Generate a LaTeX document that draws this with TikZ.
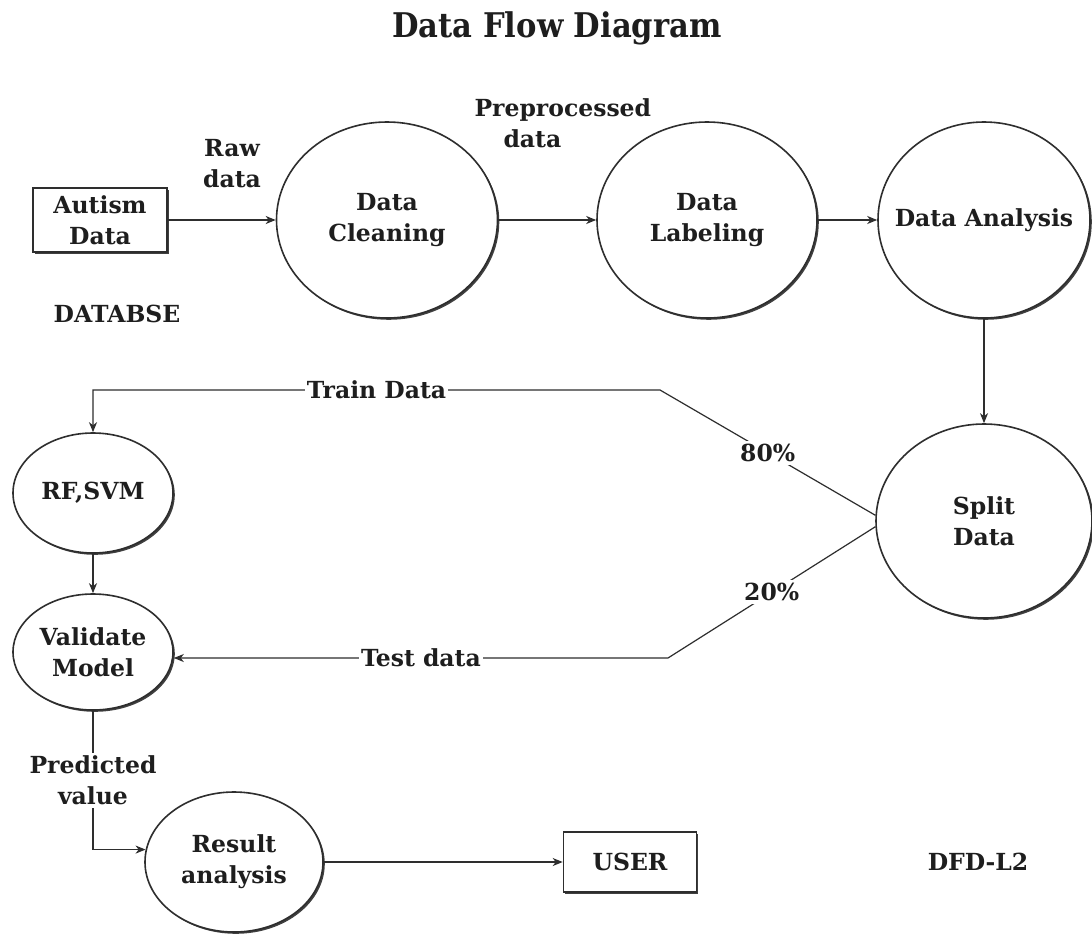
\documentclass[tikz,border=0pt]{standalone}
\usepackage{fontspec}
\setmainfont{DejaVu Serif}
\newfontfamily\headfont{DejaVu Serif Condensed}
\usetikzlibrary{shapes.geometric,arrows.meta,shadows}
\definecolor{ink}{HTML}{1E1E1E}
\definecolor{wire}{HTML}{2E2E2E}
\begin{document}
\begin{tikzpicture}[x=1pt,y=-1pt,
  every node/.style={font=\bfseries\fontsize{23.5}{31}\selectfont, text=ink},
  shade/.style={drop shadow={shadow xshift=1.8pt, shadow yshift=-1.8pt, fill=black, opacity=0.75}},
  proc/.style={ellipse, draw=wire, line width=1.6pt, fill=white, inner sep=0pt, shade},
  store/.style={rectangle, draw=wire, line width=1.6pt, fill=white, align=center, inner sep=0pt, shade},
  inner/.style={align=center},
  flow/.style={draw=wire, line width=1.2pt, -{Stealth[length=10pt,width=8pt,inset=3pt]}},
  tag/.style={fill=white, inner sep=3pt, align=center},
  note/.style={align=center}
]
% canvas
\useasboundingbox[fill=white] (0,0) rectangle (1092,934);

% heading
\node[font=\headfont\bfseries\fontsize{34}{40}\selectfont] (title) at (557,28) {Data Flow Diagram};

% top row
\node[store, minimum width=134pt, minimum height=64pt] (autism) at (100,220) {Autism\\Data};
\node[note] (rawlbl) at (232,164) {Raw\\data};
\node[proc, minimum width=221pt, minimum height=196pt,
      label={[inner]center:Data\\Cleaning}] (clean) at (387,220) {};
\node[anchor=west, align=left] (preplbl) at (471,123) {Preprocessed\\\hspace*{29pt}data};
\node[proc, minimum width=220pt, minimum height=196pt,
      label={[inner]center:Data\\Labeling}] (labeling) at (707,220) {};
\node[proc, minimum width=212pt, minimum height=196pt,
      label={[inner]center:Data Analysis}] (anal) at (984,220) {};
\node (dbname) at (117,314) {DATABSE};

% split and models
\node[proc, minimum width=216pt, minimum height=194pt,
      label={[inner]center:Split\\Data}] (split) at (984,521) {};
\node[proc, minimum width=160pt, minimum height=120pt,
      label={[inner]center:RF,SVM}] (rf) at (93,493) {};
\node[proc, minimum width=160pt, minimum height=116pt,
      label={[inner]center:Validate\\Model}] (val) at (93,652) {};
\node[proc, minimum width=178pt, minimum height=140pt,
      label={[inner]center:Result\\analysis}] (res) at (234,862) {};
\node[store, minimum width=133pt, minimum height=60pt] (user) at (630,862) {USER};
\node (dfd) at (978,862) {DFD-L2};

% flows
\draw[flow] (autism) -- (clean);
\draw[flow] (clean) -- (labeling);
\draw[flow] (labeling) -- (anal);
\draw[flow] (anal) -- (split);

\coordinate (tbend) at (660,390);
\draw[flow] (split.177) -- node[tag]{80\%} (tbend)
  -- node[tag, inner sep=2pt]{Train Data} (rf.north |- tbend) -- (rf.north);

\coordinate (sbend) at (668,658);
\draw[flow] (split.183) -- node[tag]{20\%} (sbend)
  -- node[tag, inner sep=2pt]{Test data} (val.east |- sbend);

\draw[flow] (rf) -- (val);
\draw[flow] (val.south) -- node[tag]{Predicted\\value} (val.south |- res.172) -- (res.172);
\draw[flow] (res) -- (user);
\end{tikzpicture}
\end{document}
